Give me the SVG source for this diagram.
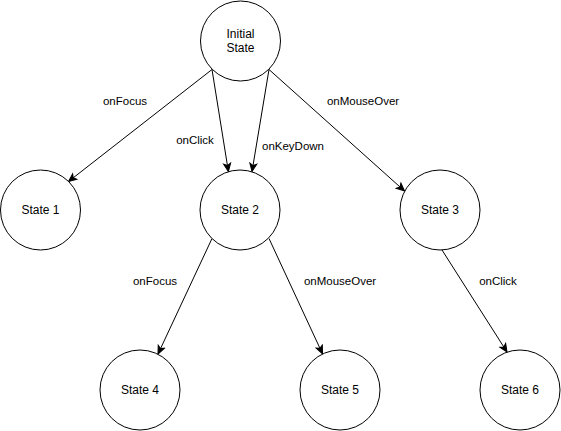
<svg xmlns="http://www.w3.org/2000/svg" width="561" height="431" viewBox="0 0 561 431">
<defs>
<style>
.node circle{fill:#fff;stroke:#000;stroke-width:1}
.node text{font-family:"Liberation Sans",Arial,sans-serif;font-size:12px;fill:#000;text-anchor:middle;dominant-baseline:central}
.edge line{stroke:#000;stroke-width:1;fill:none}
.lbl{font-family:"Liberation Sans",Arial,sans-serif;font-size:11.5px;fill:#000;text-anchor:middle;dominant-baseline:central}
</style>
<marker id="arr" viewBox="0 0 10 10" refX="9" refY="5" markerWidth="10" markerHeight="10" markerUnits="userSpaceOnUse" orient="auto">
<path d="M1,1.5 L9,5 L1,8.5 L3,5 Z" fill="#000" stroke="#000" stroke-width="1"/>
</marker>
</defs>
<rect width="561" height="431" fill="#fff"/>
<g id="connectors">
<g class="edge" id="e1"><line x1="212" y1="69.5" x2="68.5" y2="181.5" marker-end="url(#arr)"/></g>
<g class="edge" id="e2"><line x1="212" y1="69.5" x2="228.4" y2="171.5" marker-end="url(#arr)"/></g>
<g class="edge" id="e3"><line x1="269" y1="69.5" x2="252" y2="171.5" marker-end="url(#arr)"/></g>
<g class="edge" id="e4"><line x1="269" y1="69.5" x2="404.5" y2="191" marker-end="url(#arr)"/></g>
<g class="edge" id="e5"><line x1="212" y1="238.5" x2="158" y2="354" marker-end="url(#arr)"/></g>
<g class="edge" id="e6"><line x1="269" y1="238.5" x2="322.5" y2="353.8" marker-end="url(#arr)"/></g>
<g class="edge" id="e7"><line x1="442" y1="250" x2="507" y2="352" marker-end="url(#arr)"/></g>
<text class="lbl" x="125" y="101">onFocus</text>
<text class="lbl" x="195" y="140">onClick</text>
<text class="lbl" x="293" y="146">onKeyDown</text>
<text class="lbl" x="363" y="101">onMouseOver</text>
<text class="lbl" x="155" y="281">onFocus</text>
<text class="lbl" x="340" y="281">onMouseOver</text>
<text class="lbl" x="498" y="281">onClick</text>
</g>
<g class="node" id="initial"><circle cx="240.5" cy="41" r="40"/><text x="240.5" y="34">Initial</text><text x="240.5" y="48">State</text></g>
<g class="node" id="s1"><circle cx="40.5" cy="210" r="40"/><text x="40.5" y="210">State 1</text></g>
<g class="node" id="s2"><circle cx="240" cy="210" r="40"/><text x="240" y="210">State 2</text></g>
<g class="node" id="s3"><circle cx="440" cy="210" r="40"/><text x="440" y="210">State 3</text></g>
<g class="node" id="s4"><circle cx="140" cy="390" r="40"/><text x="140" y="390">State 4</text></g>
<g class="node" id="s5"><circle cx="340" cy="390" r="40"/><text x="340" y="390">State 5</text></g>
<g class="node" id="s6"><circle cx="520" cy="390" r="40"/><text x="520" y="390">State 6</text></g>
</svg>
